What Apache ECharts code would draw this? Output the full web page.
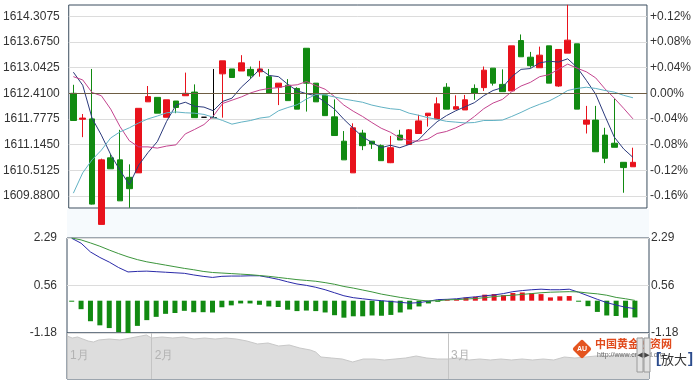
<!DOCTYPE html>
<html><head><meta charset="utf-8">
<script src="https://cdn.jsdelivr.net/npm/echarts@6/dist/echarts.min.js"></script>
<style>html,body{margin:0;padding:0;background:#fff;}#c{width:694px;height:382px;}</style>
</head><body><div id="c"></div>
<script>
const categories = ['1','2','3','4','5','6','7','8','9','10','11','12','13','14','15','16','17','18','19','20','21','22','23','24','25','26','27','28','29','30','31','32','33','34','35','36','37','38','39','40','41','42','43','44','45','46','47','48','49','50','51','52','53','54','55','56','57','58','59','60','61','62'];
const opens = [1612.41,1611.77,1611.78,1609.18,1610.82,1610.77,1610.34,1610.45,1612.20,1612.31,
 1611.82,1612.22,1612.35,1612.44,1611.82,1611.81,1612.89,1613.01,1612.96,1613.00,
 1612.94,1612.82,1612.56,1612.61,1612.53,1613.52,1612.66,1612.37,1611.83,1611.23,
 1610.45,1611.43,1611.23,1611.12,1610.70,1611.38,1611.15,1611.42,1611.86,1611.78,
 1612.56,1612.02,1612.00,1612.53,1612.55,1613.03,1612.63,1612.47,1613.71,1613.30,
 1613.04,1613.58,1612.59,1613.40,1613.63,1611.65,1611.75,1611.38,1611.18,1610.71,1610.60];
const closes = [1611.74,1611.80,1609.68,1610.77,1610.55,1609.76,1610.06,1612.04,1612.33,1611.92,
 1612.25,1612.06,1612.41,1611.81,1611.82,1611.81,1613.21,1612.80,1613.16,1612.84,
 1613.01,1612.42,1612.66,1612.23,1612.02,1612.66,1612.20,1611.86,1611.37,1610.77,
 1611.56,1611.12,1611.16,1610.75,1611.07,1611.26,1611.51,1611.73,1611.92,1612.15,
 1612.02,1612.08,1612.25,1612.41,1612.98,1612.66,1612.45,1613.58,1613.31,1613.09,
 1613.35,1612.66,1613.49,1613.72,1612.02,1611.75,1610.97,1610.81,1611.08,1610.58,1610.71];
const lows = [1611.73,1611.33,1609.67,1609.18,1610.55,1609.76,1609.59,1610.45,1612.20,1611.92,
 1611.82,1611.92,1612.35,1611.81,1611.82,1611.81,1611.81,1612.80,1612.96,1612.77,
 1612.82,1612.42,1612.12,1612.23,1612.02,1611.96,1612.20,1611.86,1611.37,1610.77,
 1610.45,1611.01,1611.04,1610.75,1610.69,1611.26,1611.15,1611.42,1611.59,1611.78,
 1612.02,1612.02,1612.00,1612.25,1612.47,1612.60,1612.45,1612.47,1613.31,1613.04,
 1613.04,1612.66,1612.57,1613.40,1612.02,1611.42,1610.97,1610.69,1611.08,1609.96,1610.60];
const highs = [1612.62,1611.90,1613.01,1610.80,1610.91,1611.51,1610.66,1612.04,1612.59,1612.31,
 1612.25,1612.22,1612.92,1612.63,1611.82,1613.01,1613.21,1613.01,1613.35,1613.07,
 1613.21,1613.01,1612.66,1612.76,1612.56,1613.52,1612.66,1612.37,1612.26,1611.48,
 1611.67,1611.51,1611.23,1611.15,1611.36,1611.51,1611.53,1611.88,1611.92,1612.31,
 1612.66,1612.36,1612.37,1612.63,1613.07,1613.03,1613.00,1613.58,1613.86,1613.43,
 1613.56,1613.58,1613.49,1614.59,1613.63,1612.10,1612.10,1611.56,1612.28,1610.71,1611.07];
const ma5 = [1612.93,1612.61,1611.80,1611.38,1610.90,1610.51,1610.16,1610.64,1610.95,1611.22,
 1611.72,1612.12,1612.19,1612.09,1612.07,1611.98,1612.21,1612.29,1612.56,1612.77,
 1613.01,1612.85,1612.82,1612.63,1612.47,1612.40,1612.35,1612.19,1612.02,1611.77,
 1611.55,1611.34,1611.20,1611.07,1611.13,1611.07,1611.15,1611.26,1611.50,1611.71,
 1611.86,1611.98,1612.08,1612.18,1612.35,1612.48,1612.55,1612.82,1613.00,1613.02,
 1613.16,1613.20,1613.18,1613.26,1613.05,1612.73,1612.39,1611.85,1611.33,1611.04,1610.83];
const ma10 = [1612.82,1612.74,1612.43,1612.35,1612.02,1611.59,1611.24,1611.09,1611.09,1611.06,
 1611.11,1611.14,1611.41,1611.52,1611.64,1611.85,1612.16,1612.24,1612.32,1612.42,
 1612.49,1612.53,1612.55,1612.60,1612.62,1612.70,1612.60,1612.51,1612.33,1612.12,
 1611.97,1611.84,1611.69,1611.55,1611.45,1611.31,1611.24,1611.23,1611.28,1611.42,
 1611.47,1611.56,1611.67,1611.84,1612.03,1612.17,1612.26,1612.45,1612.59,1612.68,
 1612.82,1612.87,1613.00,1613.13,1613.03,1612.94,1612.79,1612.52,1612.29,1612.04,1611.78];
const ma20 = [1609.95,1610.45,1610.77,1611.01,1611.31,1611.46,1611.56,1611.68,1611.78,1611.85,
 1611.93,1611.95,1611.93,1611.92,1611.89,1611.82,1611.74,1611.65,1611.70,1611.74,
 1611.80,1611.83,1611.98,1612.06,1612.13,1612.27,1612.38,1612.37,1612.32,1612.27,
 1612.23,1612.19,1612.12,1612.07,1612.03,1612.01,1611.92,1611.87,1611.81,1611.77,
 1611.72,1611.70,1611.68,1611.69,1611.74,1611.74,1611.75,1611.84,1611.94,1612.05,
 1612.14,1612.22,1612.34,1612.48,1612.53,1612.56,1612.53,1612.48,1612.44,1612.36,1612.30];
const dif = [2.28,2.10,1.78,1.58,1.41,1.21,1.05,1.07,1.08,1.06,
 1.04,1.02,1.00,0.94,0.89,0.85,0.89,0.90,0.90,0.91,
 0.91,0.85,0.78,0.69,0.61,0.56,0.49,0.40,0.29,0.18,
 0.11,0.07,0.03,0.00,-0.03,-0.06,-0.09,-0.07,-0.02,0.04,
 0.05,0.07,0.11,0.14,0.18,0.21,0.26,0.33,0.37,0.40,
 0.42,0.40,0.40,0.42,0.31,0.18,0.05,-0.07,-0.16,-0.24,-0.29];
const dea = [2.29,2.22,2.11,1.99,1.85,1.72,1.60,1.50,1.42,1.36,
 1.30,1.24,1.18,1.13,1.07,1.03,1.01,0.99,0.97,0.95,
 0.92,0.89,0.85,0.81,0.77,0.74,0.71,0.66,0.60,0.52,
 0.46,0.39,0.32,0.24,0.18,0.12,0.07,0.02,-0.01,0.00,
 0.03,0.04,0.06,0.08,0.11,0.15,0.18,0.20,0.23,0.26,
 0.29,0.31,0.32,0.33,0.32,0.28,0.25,0.20,0.12,0.07,0.01];
const macd = [-0.02,-0.31,-0.75,-0.90,-1.00,-1.15,-1.20,-0.92,-0.71,-0.59,
 -0.48,-0.45,-0.37,-0.42,-0.42,-0.43,-0.24,-0.17,-0.10,-0.10,
 -0.15,-0.21,-0.23,-0.33,-0.38,-0.36,-0.38,-0.43,-0.53,-0.62,
 -0.57,-0.57,-0.54,-0.55,-0.52,-0.43,-0.32,-0.21,-0.10,-0.04,
 0.02,0.06,0.11,0.14,0.22,0.24,0.20,0.28,0.30,0.27,
 0.24,0.12,0.16,0.17,-0.02,-0.20,-0.41,-0.54,-0.56,-0.62,-0.61];
const priceTicks = [1609.88,1610.5125,1611.145,1611.7775,1612.41,1613.0425,1613.675,1614.3075];
const priceTickLabels = ['1609.8800','1610.5125','1611.1450','1611.7775','1612.4100','1613.0425','1613.6750','1614.3075'];
const pctTickLabels = ['-0.16%','-0.12%','-0.08%','-0.04%','0.00%','+0.04%','+0.08%','+0.12%'];
const macdTicks = [-1.18,0.56,2.29];
const macdTickLabels = ['-1.18','0.56','2.29'];
const navDays = [0,0.5,1,1.5,2,2.5,3,4,5,6,7,7.5,8,9,10,11,12,13,14,15,16,17,18,19,20,21,22,23,23.5,24,25,26,27,28,29,30,31,32,33,34,35,36,37,38,39,40,41,42,43,44,45,46,47,48,49,50,51,52,53,54,55];
const navLevels = [43,41,42,40,38,37,39,40,39,41,43,44,41,42,41,42,40,41,40,41,40,38,35,36,33,34,31,29,27,22,21,20,17,20,20,19,20,21,23,21,20,20,21,19,20,19,20,19,20,19,20,19,22,21,22,23,23,24,24,25,26];
const monthTicks = [0,8,36];
const monthLabels = ['1月','2月','3月'];
const dojiIdx = [14,15];

const FONT = 'Liberation Sans, Arial, sans-serif';
const UP = '#e8121c', DOWN = '#118a11';
function pick(ticks, labels, v){ for(let i=0;i<ticks.length;i++){ if(Math.abs(ticks[i]-v)<1e-6) return labels[i]; } return ''; }

const kData = opens.map((o,i)=>{
  const item = {value:[o, closes[i], lows[i], highs[i]]};
  if (dojiIdx.indexOf(i) >= 0) item.itemStyle = {color:'#000', color0:'#000', borderColor:'#000', borderColor0:'#000'};
  return item;
});
const navData = navDays.map((d,i)=>[d, navLevels[i]]);

const chart = echarts.init(document.getElementById('c'), null, {renderer:'canvas'});
chart.setOption({
  animation:false,
  backgroundColor:'#ffffff',
  textStyle:{fontFamily:FONT},
  grid:[
    {left:67, right:45, top:5, height:203, show:true, borderColor:'#3b4d5e', borderWidth:1, backgroundColor:'#fff'},
    {left:67, right:45, top:238, height:95, show:true, borderColor:'#3b4d5e', borderWidth:1, backgroundColor:'#fff'},
    {left:67, right:45, top:333, height:46, show:true, borderColor:'#3b4d5e', borderWidth:1, backgroundColor:'#fff'}
  ],
  xAxis:[
    {type:'category', gridIndex:0, data:categories, boundaryGap:true, show:false},
    {type:'category', gridIndex:1, data:categories, boundaryGap:true, show:false},
    {type:'value', gridIndex:2, min:0, max:55, z:5, axisLine:{show:false},
     axisTick:{show:false, customValues:monthTicks},
     splitLine:{show:true, lineStyle:{color:'#c4c4c4', width:1}},
     axisLabel:{show:true, inside:true, showMinLabel:true, hideOverlap:false, customValues:monthTicks, formatter:v=>pick(monthTicks,monthLabels,v),
       align:'left', verticalAlign:'middle', margin:23, padding:[0,0,0,3], color:'#b3b3b3', fontSize:12, fontFamily:FONT}}
  ],
  yAxis:[
    {type:'value', gridIndex:0, min:1609.584, max:1614.586, position:'left', axisLine:{show:false}, axisTick:{show:false, customValues:priceTicks},
     splitLine:{show:true, lineStyle:{color:'#dcdcdc'}},
     axisLabel:{customValues:priceTicks, formatter:v=>pick(priceTicks,priceTickLabels,v), margin:9, color:'#333', fontSize:12, fontFamily:FONT}},
    {type:'value', gridIndex:0, min:1609.584, max:1614.586, position:'right', axisLine:{show:false}, axisTick:{show:false, customValues:priceTicks},
     splitLine:{show:false},
     axisLabel:{customValues:priceTicks, formatter:v=>pick(priceTicks,pctTickLabels,v), margin:3, color:'#333', fontSize:12, fontFamily:FONT}},
    {type:'value', gridIndex:1, min:-1.18, max:2.29, position:'left', axisLine:{show:false}, axisTick:{show:false, customValues:macdTicks},
     splitLine:{show:true, lineStyle:{color:'#dcdcdc'}},
     axisLabel:{customValues:macdTicks, formatter:v=>pick(macdTicks,macdTickLabels,v), margin:10, color:'#333', fontSize:12, fontFamily:FONT}},
    {type:'value', gridIndex:1, min:-1.18, max:2.29, position:'right', axisLine:{show:false}, axisTick:{show:false, customValues:macdTicks},
     splitLine:{show:false},
     axisLabel:{customValues:macdTicks, formatter:v=>pick(macdTicks,macdTickLabels,v), margin:2, color:'#333', fontSize:12, fontFamily:FONT}},
    {type:'value', gridIndex:2, min:0, max:46, show:false}
  ],
  series:[
    {type:'candlestick', xAxisIndex:0, yAxisIndex:0, data:kData, barWidth:6, clip:false,
     itemStyle:{color:UP, color0:DOWN, borderColor:UP, borderColor0:DOWN, borderWidth:1},
     markLine:{silent:true, symbol:['none','none'], label:{show:false},
       lineStyle:{color:'#6e5d43', width:1, type:'solid'}, data:[{yAxis:1612.41}]}},
    {type:'line', name:'MA5', xAxisIndex:0, yAxisIndex:0, data:ma5, showSymbol:false, lineStyle:{color:'#2b3a7c', width:1}},
    {type:'line', name:'MA10', xAxisIndex:0, yAxisIndex:0, data:ma10, showSymbol:false, lineStyle:{color:'#c4448f', width:1}},
    {type:'line', name:'MA20', xAxisIndex:0, yAxisIndex:0, data:ma20, showSymbol:false, lineStyle:{color:'#62b2c4', width:1}},
    {type:'bar', name:'MACD', xAxisIndex:1, yAxisIndex:2, data:macd, barWidth:5, barMinHeight:1,
     itemStyle:{color:p=>p.value>=0?UP:DOWN}},
    {type:'line', name:'DIF', xAxisIndex:1, yAxisIndex:2, data:dif, showSymbol:false, lineStyle:{color:'#2a2aa8', width:1}},
    {type:'line', name:'DEA', xAxisIndex:1, yAxisIndex:2, data:dea, showSymbol:false, lineStyle:{color:'#3c953c', width:1}},
    {type:'line', name:'nav', xAxisIndex:2, yAxisIndex:4, data:navData, showSymbol:false, z:1, lineStyle:{color:'#c8c8c8', width:1},
     areaStyle:{color:'#dddddd', opacity:1}}
  ],
  graphic:[
    {type:'rect', shape:{x:67, y:209, width:582, height:28}, style:{fill:'#f6fafd'}, z:-10},
    {type:'rect', rotation:Math.PI/4, x:582, y:349, shape:{x:-7, y:-7, width:14, height:14, r:2}, style:{fill:'#e4541f'}, z:20},
    {type:'text', x:582, y:349, style:{text:'AU', fill:'#fff', font:'bold 7px '+FONT, align:'center', verticalAlign:'middle'}, z:21},
    {type:'text', x:595, y:344, style:{text:'中国黄金投资网', fill:'#e04a1c', font:'bold 11px "Noto Sans CJK SC"', verticalAlign:'middle'}, z:20},
    {type:'text', x:597, y:355, style:{text:'http://www.cngold.org', fill:'#666', font:'7px '+FONT, verticalAlign:'middle'}, z:20},
    {type:'rect', shape:{x:637, y:338, width:6, height:34}, style:{fill:'#e2e2e2', stroke:'#9a9a9a', lineWidth:1}, z:30},
    {type:'rect', shape:{x:644, y:338, width:6, height:34}, style:{fill:'#e2e2e2', stroke:'#9a9a9a', lineWidth:1}, z:30},
    {type:'text', x:640, y:355, style:{text:'◀', fill:'#444', font:'7px "DejaVu Sans"', align:'center', verticalAlign:'middle'}, z:31},
    {type:'text', x:647, y:355, style:{text:'▶', fill:'#444', font:'7px "DejaVu Sans"', align:'center', verticalAlign:'middle'}, z:31},
    {type:'text', x:656, y:359, style:{text:'[', fill:'#2b4b8c', font:'bold 15px '+FONT, verticalAlign:'middle'}, z:30},
    {type:'text', x:661, y:359, style:{text:'放大', fill:'#333', font:'13px "Noto Sans CJK SC"', verticalAlign:'middle'}, z:30},
    {type:'text', x:688, y:359, style:{text:']', fill:'#2b4b8c', font:'bold 15px '+FONT, verticalAlign:'middle'}, z:30}
  ]
});
</script></body></html>
